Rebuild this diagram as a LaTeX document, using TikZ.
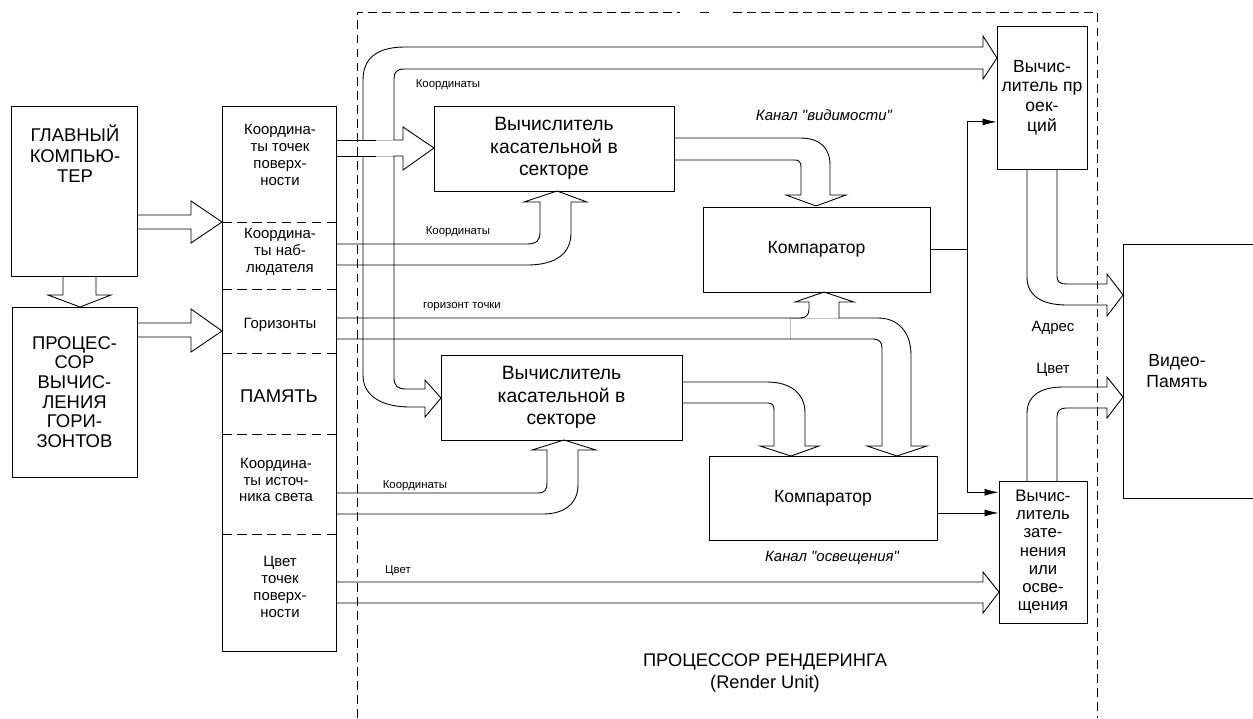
\documentclass[tikz,border=0pt]{standalone}
\usepackage{fontspec}
\setmainfont{Liberation Sans}
\newfontfamily\quotefont{Liberation Sans}[Ligatures=TeXOff]
\usetikzlibrary{arrows.meta,positioning,calc}

\begin{document}
\begin{tikzpicture}[x=0.02cm, y=-0.02cm, line width=0.5pt, line join=miter,
  box/.style={draw, inner sep=0pt, align=center},
  big/.style={font=\fontsize{10.5}{11.6}\selectfont, align=center},
  mid/.style={font=\fontsize{10}{11.3}\selectfont, align=center},
  memtxt/.style={font=\fontsize{8.5}{9.6}\selectfont, align=center},
  tag/.style={font=\fontsize{6.5}{7.5}\selectfont},
  chan/.style={font=\quotefont\itshape\fontsize{8.5}{10}\selectfont},
  sep/.style={dash pattern=on 5.5pt off 3pt},
  region/.style={dash pattern=on 5pt off 3pt},
  wire/.style={-{Latex[length=8pt,width=4pt]}},
  fade/.style={draw=black!25}]

\useasboundingbox (0,0) rectangle (1253,718);
\clip (0,0) rectangle (1253,718);

% host side
\node[box, minimum width=2.52cm, minimum height=3.4cm] (host) at (74,191) {};
\node[big] (hosttxt) at (75,154) {ГЛАВНЫЙ\\КОМПЬЮ-\\ТЕР};
\node[box, minimum width=2.5cm, minimum height=3.4cm,
  font=\fontsize{10.5}{11.2}\selectfont] (hproc) at (74.5,392)
  {ПРОЦЕС-\\СОР\\ВЫЧИС-\\ЛЕНИЯ\\ГОРИ-\\ЗОНТОВ};

% memory
\node[box, minimum width=2.28cm, minimum height=10.9cm] (mem) at (279,378.5) {};
\foreach \y in {222,289,353,434,534}
  \draw[sep] (222,\y) -- (336,\y);
\node[memtxt] (memA) at (280,155) {Координа-\\ты точек\\поверх-\\ности};
\node[memtxt] (memB) at (280,252) {Координа-\\ты наб-\\людателя};
\node[memtxt] (memC) at (280,325) {Горизонты};
\node[big] (memD) at (279,396) {ПАМЯТЬ};
\node[memtxt] (memE) at (276,480) {Координа-\\ты источ-\\ника света};
\node[memtxt] (memF) at (280,587) {Цвет\\точек\\поверх-\\ности};

% render unit
\draw[region] (357,718) -- (357,12) -- (680,12);
\draw[region] (700,12) -- (712,12);
\draw[region] (733,12) -- (1097,12) -- (1097,718);
\node[mid, font=\fontsize{10.4}{12}\selectfont] (title) at (765,673)
  {ПРОЦЕССОР РЕНДЕРИНГА\\(Render Unit)};

\node[box, minimum width=4.8cm, minimum height=1.7cm,
  font=\fontsize{11}{12.8}\selectfont] (tanA) at (554,148.5)
  {Вычислитель\\касательной в\\секторе};
\node[box, minimum width=4.82cm, minimum height=1.7cm,
  font=\fontsize{11}{12.8}\selectfont] (tanB) at (561.5,397.5)
  {Вычислитель\\касательной в\\секторе};
\node[box, minimum width=4.54cm, minimum height=1.7cm,
  font=\fontsize{10}{12}\selectfont] (cmpA) at (816.5,249.5) {Компаратор};
\node[box, minimum width=4.56cm, minimum height=1.68cm,
  font=\fontsize{10}{12}\selectfont] (cmpB) at (823,498) {Компаратор};
\node[box, minimum width=1.8cm, minimum height=2.86cm,
  font=\fontsize{10}{11.3}\selectfont] (proj) at (1042,97.5)
  {Вычис-\\литель пр\\оек-\\ций};
\node[box, minimum width=1.76cm, minimum height=2.84cm,
  font=\fontsize{9.5}{10.4}\selectfont] (shade) at (1043,552)
  {Вычис-\\литель\\зате-\\нения\\или\\осве-\\щения};
\node[box, minimum width=3.14cm, minimum height=5.08cm] (vmem) at (1201.5,371) {};
\node[mid, font=\fontsize{10}{12}\selectfont] (vmemtxt) at (1177,371) {Видео-\\Память};

% labels
\node[tag] (lblA) at (448,85) {Координаты};
\node[tag] (lblB) at (458,232) {Координаты};
\node[tag] (lblC) at (462,307) {горизонт точки};
\node[tag] (lblD) at (415,486) {Координаты};
\node[tag] (lblE) at (398,571) {Цвет};
\node[chan] (chanA) at (824,115) {Канал "видимости"};
\node[chan] (chanB) at (832,558) {Канал "освещения"};
\node[memtxt] (addr) at (1053,328) {Адрес};
\node[memtxt] (col) at (1053,370) {Цвет};

% wide arrows
\draw (63,276) -- (63,295) -- (48,295) -- (80,307) -- (111,295) -- (96,295) -- (96,276);
\draw (137,215) -- (191,215) -- (191,201) -- (222,222) -- (191,243) -- (191,229) -- (137,229);
\draw (137,323) -- (191,323) -- (191,309) -- (222,331) -- (191,352) -- (191,337) -- (137,337);

% coordinate bus
\draw[fade] (376,140) -- (394,140) (376,156) -- (394,156);
\draw (336,140) -- (376,140) (336,156) -- (376,156);
\draw (363,140) -- (363,80) .. controls (363,56) and (380,47) .. (405,47)
  -- (983,47) -- (983,36) -- (997,58) -- (983,79) -- (983,69) -- (404,69)
  .. controls (397,69) and (394,72) .. (394,79) -- (394,140) -- (403,140)
  -- (403,127) -- (434,148) -- (403,170) -- (403,156) -- (394,156)
  -- (394,378) .. controls (394,386) and (398,389) .. (406,389) -- (425,389)
  -- (425,380) -- (441,398) -- (425,417) -- (425,407) -- (410,407)
  .. controls (385,407) and (363,398) .. (363,375) -- (363,156);

\draw (336,244) -- (527,244) .. controls (537,244) and (540,240) .. (540,232)
  -- (540,202) -- (524,202) -- (557,191) -- (587,202) -- (571,202) -- (571,233)
  .. controls (571,252) and (558,265) .. (527,265) -- (336,265);

\draw[fade] (790,318) -- (839,318) (790,318) -- (790,339);
\draw (336,318) -- (800,318) .. controls (806,318) and (809,315) .. (809,309)
  -- (809,302) -- (795,302) -- (824,292) -- (854,302) -- (839,302) -- (839,318)
  -- (878,318) .. controls (898,318) and (911,332) .. (911,355) -- (911,446)
  -- (927,446) -- (897,456) -- (867,446) -- (882,446) -- (882,348)
  .. controls (882,342) and (879,339) .. (873,339) -- (336,339);

\draw (336,493) -- (537,493) .. controls (545,493) and (547,490) .. (547,483)
  -- (547,450) -- (532,450) -- (564,440) -- (596,450) -- (578,450) -- (578,485)
  .. controls (578,503) and (565,514) .. (543,514) -- (336,514);

\draw (336,582) -- (983,582) -- (983,572) -- (999,592) -- (983,613) -- (983,603) -- (336,603);

\draw (674,138) -- (800,138) .. controls (820,138) and (830,148) .. (830,165)
  -- (830,195) -- (846,195) -- (816,206) -- (786,195) -- (801,195) -- (801,167)
  .. controls (801,162) and (799,160) .. (795,160) -- (674,160);

\draw (682,382) -- (767,382) .. controls (790,382) and (805,393) .. (805,413)
  -- (805,446) -- (819,446) -- (791,456) -- (760,446) -- (774,446) -- (774,410)
  .. controls (774,405) and (772,403) .. (768,403) -- (682,403);

\draw (1027,169) -- (1027,277) .. controls (1027,296) and (1042,305) .. (1067,305)
  -- (1107,305) -- (1107,316) -- (1123,295) -- (1107,274) -- (1107,284)
  -- (1066,284) .. controls (1060,284) and (1057,282) .. (1057,276) -- (1057,169);

\draw (1027,481) -- (1027,413) .. controls (1027,396) and (1040,387) .. (1063,387)
  -- (1107,387) -- (1107,377) -- (1123,397) -- (1107,418) -- (1107,408)
  -- (1066,408) .. controls (1060,408) and (1057,411) .. (1057,417) -- (1057,481);

% control lines
\coordinate (tap) at (967,249.5);
\draw (cmpA.east) -- (tap);
\draw[wire] (tap) |- ([yshift=-13.9pt]proj.west);
\draw[wire] (tap) |- ([yshift=34pt]shade.west);
\draw[wire] ([yshift=-8.5pt]cmpB.east) -- ([yshift=-8.5pt]cmpB.east -| shade.west);
\end{tikzpicture}
\end{document}
